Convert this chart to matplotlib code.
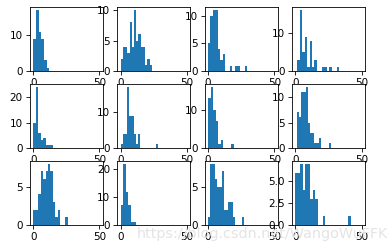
import numpy as np
import matplotlib
matplotlib.use("Agg")
import matplotlib.pyplot as plt

# bin counts (row by row), plus the data range they span
counts_1 = [9, 17, 11, 9, 3, 1]
counts_2 = [2, 4, 4, 3, 8, 4, 10, 5, 6, 4, 4, 1, 2, 1]
counts_3 = [5, 10, 11, 11, 4, 2, 3, 0, 0, 1, 0, 1, 1, 0, 0, 1]
counts_4 = [3, 16, 5, 9, 1, 8, 1, 3, 0, 0, 1, 1, 0, 1, 0, 0, 1]
counts_5 = [10, 24, 6, 3, 4, 1, 1, 1]
counts_6 = [1, 4, 4, 17, 9, 9, 9, 4, 1, 4, 0, 0, 0, 0, 0, 0, 0, 0, 1]
counts_7 = [13, 16, 10, 7, 1, 2, 0, 0, 0, 1]
counts_8 = [7, 6, 11, 11, 12, 5, 3, 3, 1, 1, 2, 0, 0, 0, 0, 1]
counts_9 = [2, 2, 4, 7, 6, 7, 8, 7, 3, 1, 2, 0, 0, 1]
counts_10 = [7, 22, 12, 7, 1, 1]
counts_11 = [1, 8, 8, 6, 5, 5, 7, 2, 2, 3, 3, 1, 0, 0, 0, 1]
counts_12 = [6, 6, 7, 4, 7, 7, 3, 4, 3, 0, 0, 1, 0, 0, 0, 0, 0, 0, 0, 0, 0, 1]

ranges = [(0, 12.0), (0, 23.5), (0, 29.4), (1.3, 33.0),
          (0, 15.2), (0, 28.3), (0, 19.4), (1.3, 27.2),
          (0, 25.9), (0, 11.4), (0, 27.3), (0, 41.6)]

all_counts = [counts_1, counts_2, counts_3, counts_4,
              counts_5, counts_6, counts_7, counts_8,
              counts_9, counts_10, counts_11, counts_12]

x_ticks = [0, 50]
watermark = "https://blog.csdn.net/WangoWuFFK"

DPI = 75
fig, axes = plt.subplots(3, 4, figsize=(392 / DPI, 251 / DPI), dpi=DPI)
fig.subplots_adjust(left=0.0765, right=0.931, top=0.972, bottom=0.104,
                    wspace=0.2, hspace=0.2)

for ax, cnt, (lo, hi) in zip(axes.flat, all_counts, ranges):
    edges = np.linspace(lo, hi, len(cnt) + 1)
    ax.hist(edges[:-1], bins=edges, weights=cnt, color="#1f77b4")
    ax.set_xlim(-2.5, 52.5)
    ax.set_xticks(x_ticks)

# faint watermark along the bottom edge
fig.text(0.99, 0.05, watermark, ha="right", va="baseline",
         fontsize=13.8, color="#e4e4e4", zorder=10)

fig.savefig("out.png", dpi=DPI)
